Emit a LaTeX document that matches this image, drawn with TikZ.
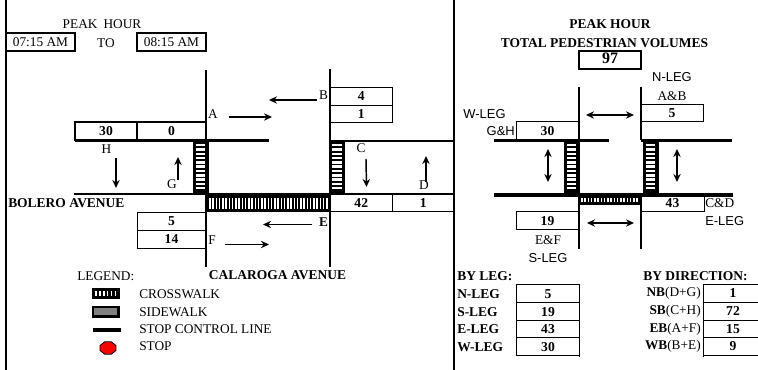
\documentclass[tikz,border=0pt]{standalone}
\usepackage{fontspec}
\setmainfont{Liberation Serif}
\newfontfamily\legfont{Liberation Sans}
\usetikzlibrary{arrows.meta, shapes.geometric}
\definecolor{acera}{HTML}{808080}
\definecolor{alto}{HTML}{FF0000}
\newcommand{\cruceV}[3]{% x left, y top, y bottom
	\fill[black] (#1,#2) rectangle (#1+16,#3);
	\pgfmathsetmacro{\yini}{#2+3}
	\pgfmathsetmacro{\ysig}{#2+7.3}
	\pgfmathsetmacro{\yfin}{#3-4}
	\foreach \yy in {\yini,\ysig,...,\yfin} {
		\fill[white] (#1+3.2,\yy) rectangle (#1+12.8,\yy+2.5);
	}
}
\newcommand{\cruceH}[5]{% x left, x right, y top, y bottom, pitch
	\fill[black] (#1,#3) rectangle (#2,#4);
	\pgfmathsetmacro{\xini}{#1+3}
	\pgfmathsetmacro{\xsig}{#1+3+#5}
	\pgfmathsetmacro{\xfin}{#2-3}
	\foreach \xx in {\xini,\xsig,...,\xfin} {
		\fill[white] (\xx,#3+3) rectangle (\xx+1.7,#4-3);
	}
}

\begin{document}
\begin{tikzpicture}[x=0.75pt, y=-0.75pt, font=\fontsize{10}{11}\selectfont,
		borde/.style={black, line width=1.1pt},
		calle/.style={black, line width=1.5pt},
		pare/.style={black, line width=2.4pt},
		caja/.style={black, line width=0.75pt},
		cajag/.style={black, line width=1.4pt},
		flecha/.style={-{Stealth[length=6pt, width=5.5pt]}, black, line width=1.1pt},
		doble/.style={{Stealth[length=6pt, width=5.5pt]}-{Stealth[length=6pt, width=5.5pt]}, black, line width=1.1pt},
		valor/.style={font=\fontsize{10.2}{11}\selectfont\bfseries, inner sep=0pt},
		letra/.style={inner sep=0pt},
		negra/.style={inner sep=0pt, font=\fontsize{10.1}{11}\selectfont\bfseries},
		leg/.style={font=\legfont\fontsize{9.7}{11}\selectfont, inner sep=0pt}]
	\useasboundingbox (0,0) rectangle (758,370);
	% marco
	\draw[borde] (6,0) -- (6,370);
	\draw[borde] (454,0) -- (454,370);
	% hora pico
	\node[letra] (tituloHora) at (102,24) {PEAK\hspace{0.45em}HOUR};
	\draw[cajag] (6,33) rectangle (75,51) node[midway, letra] (horaIni) {07:15 AM};
	\node[letra] (horaTo) at (106,43) {TO};
	\draw[cajag] (137,33) rectangle (206,51) node[midway, letra] (horaFin) {08:15 AM};
	% calles izquierda
	\draw[calle] (206,70) -- (206,267);
	\draw[calle] (330,69) -- (330,267);
	\draw[calle] (74,194) -- (454,194);
	\draw[calle] (330,141) -- (454,141);
	\draw[pare] (75,140.5) -- (269,140.5);
	% cajas
	\draw[caja] (330,87.3) rectangle (392.7,105.3) node[midway, valor] (volB) {4};
	\draw[caja] (330,105.3) rectangle (392.7,122.3) node[midway, valor] (volA) {1};
	\draw[cajag] (75,122) rectangle (137,140.5) node[midway, valor] (volH) {30};
	\draw[cajag] (137,122) rectangle (206,140.5) node[midway, valor] (volG) {0};
	\draw[caja] (330,194) rectangle (392.5,212) node[midway, valor] (volC) {42};
	\draw[caja] (392.5,194) rectangle (454,212) node[midway, valor] (volD) {1};
	\draw[caja] (137,212.5) rectangle (206,230.5) node[midway, valor] (volE) {5};
	\draw[caja] (137,230.5) rectangle (206,248.5) node[midway, valor] (volF) {14};
	% cruces
	\cruceV{192.5}{141}{194}
	\cruceV{329}{141}{194}
	\cruceH{206}{331}{195}{212}{3.25}
	% flechas
	\draw[flecha] (229,117) -- (272,117);
	\draw[flecha] (317,100) -- (269,100);
	\draw[flecha] (366,159) -- (366.5,187);
	\draw[flecha] (426,182) -- (426,156);
	\draw[flecha] (312,224.5) -- (263,224.5);
	\draw[flecha] (225,244.5) -- (269,244.5);
	\draw[flecha] (116,158) -- (116,188);
	\draw[flecha] (178,180) -- (178,157);
	% letras
	\node[letra] (letraA) at (213,114) {A};
	\node[letra] (letraB) at (323.5,95.5) {B};
	\node[letra] (letraC) at (361,148.5) {C};
	\node[letra] (letraD) at (424,185) {D};
	\node[letra] (letraE) at (323.5,222) {\textbf{E}};
	\node[letra] (letraF) at (212,240) {F};
	\node[letra] (letraG) at (172,184) {G};
	\node[letra] (letraH) at (106.5,149) {H};
	\node[negra, anchor=west] (bolero) at (8,203.5) {BOLERO AVENUE};
	\node[negra] (calaroga) at (277.5,275) {CALAROGA AVENUE};
	% leyenda
	\node[letra, anchor=west] (leyenda) at (77,276) {LEGEND:};
	\cruceH{92}{119.5}{288}{299}{3.9}
	\draw[black, line width=1.6pt, fill=acera] (93,307) rectangle (118.5,316.5);
	\draw[pare] (93,330) -- (121,330);
	\node[regular polygon, regular polygon sides=8, fill=alto, draw=black, line width=0.6pt, inner sep=0pt, minimum size=14pt, yscale=0.72, xscale=0.92] (pareIcono) at (108,348) {};
	\node[letra, anchor=west] (legCruce) at (139,294) {CROSSWALK};
	\node[letra, anchor=west] (legAcera) at (139,312) {SIDEWALK};
	\node[letra, anchor=west] (legLinea) at (139,329) {STOP CONTROL LINE};
	\node[letra, anchor=west] (legPare) at (139,346) {STOP};
	% derecha: totales
	\node[negra] (totalA) at (610,24) {PEAK HOUR};
	\node[negra] (totalB) at (604.5,43) {TOTAL PEDESTRIAN VOLUMES};
	\draw[cajag] (579,51) rectangle (641,69) node[midway, valor, font=\fontsize{12}{13}\selectfont\bfseries, yshift=1pt] (total) {97};
	\draw[calle] (579,87) -- (579,140);
	\draw[calle] (641,87) -- (641,140);
	\draw[calle] (579,205) -- (579,249);
	\draw[calle] (641,205) -- (641,249);
	\draw[pare] (494,140.5) -- (609,140.5);
	\draw[pare] (641,140.5) -- (732,140.5);
	\draw[pare] (494,195) -- (733,195);
	\draw[caja] (641,105) rectangle (703,122) node[midway, valor] (nLeg) {5};
	\draw[caja] (516,122) rectangle (579,140) node[midway, valor] (wLeg) {30};
	\draw[caja] (641,195) rectangle (704,212) node[midway, valor] (eLeg) {43};
	\draw[caja] (516,212) rectangle (579,230) node[midway, valor] (sLeg) {19};
	\cruceV{563.5}{141}{194}
	\cruceV{642.5}{141}{194}
	\cruceH{578}{642}{195}{205}{3.25}
	\draw[doble] (586,115) -- (634,115);
	\draw[doble] (587,223) -- (634,223);
	\draw[doble] (548,149) -- (548,182);
	\draw[doble] (677,149) -- (677,182);
	\node[leg] (tagN) at (672,77) {N-LEG};
	\node[letra] (tagAB) at (672,96) {A\&B};
	\node[leg] (tagW) at (484.5,114) {W-LEG};
	\node[leg, anchor=east] (tagGH) at (515,131) {G\&H};
	\node[letra, anchor=west] (tagCD) at (705,203) {C\&D};
	\node[leg, anchor=west] (tagE) at (705,221) {E-LEG};
	\node[letra] (tagEF) at (548,240) {E\&F};
	\node[leg] (tagS) at (548,258) {S-LEG};
	% por tramo
	\node[negra, anchor=west] (porTramo) at (457,276) {BY LEG:};
	\foreach \ytop/\ymed/\nom/\val in {284.5/294/N-LEG/5, 302.5/312/S-LEG/19, 320.5/329/E-LEG/43, 338/347/W-LEG/30} {
		\node[negra, anchor=west] (tramo\nom) at (457,\ymed) {\nom};
		\draw[caja] (516,\ytop) -- (579,\ytop);
		\node[valor] (tramoVal\nom) at (548,\ymed) {\val};
	}
	\draw[caja] (516,356) -- (579,356);
	\draw[caja] (516,284.5) -- (516,356);
	\draw[caja] (579,284.5) -- (579,357);
	% por sentido
	\node[negra, anchor=west] (porSentido) at (643,276) {BY DIRECTION:};
	\foreach \ytop/\ymed/\nom/\suma/\val in {284.5/293/NB/D+G/1, 302.5/311.5/SB/C+H/72, 320.5/329/EB/A+F/15, 338/346.5/WB/B+E/9} {
		\node[letra, anchor=east] (sentido\nom) at (701,\ymed) {\textbf{\nom}(\suma)};
		\draw[caja] (703.5,\ytop) -- (758,\ytop);
		\node[valor] (sentidoVal\nom) at (733,\ymed) {\val};
	}
	\draw[caja] (703.5,356) -- (758,356);
	\draw[caja] (703.5,284.5) -- (703.5,357);
\end{tikzpicture}
\end{document}
